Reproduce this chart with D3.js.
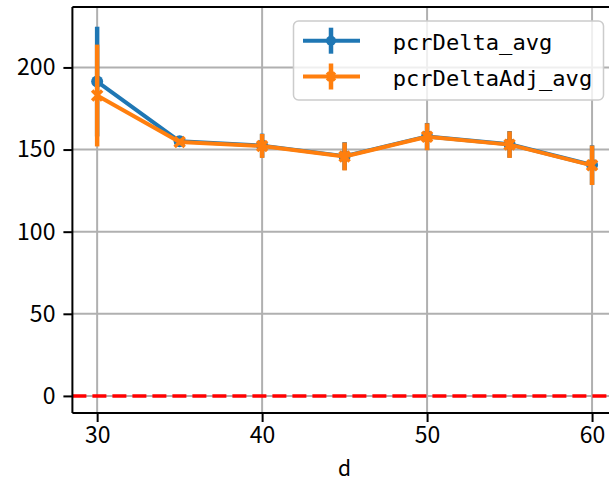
<!DOCTYPE html>
<html><head><meta charset="utf-8">
<script src="https://cdn.jsdelivr.net/npm/d3@7"></script>
<style>html,body{margin:0;padding:0;background:#fff;overflow:hidden}</style>
</head><body>
<svg id="chart" width="609" height="484"></svg>
<script>
const dValues = [30, 35, 40, 45, 50, 55, 60];
const pcrDeltaAvg = [191.4, 155.0, 152.4, 146.0, 158.0, 153.2, 140.6];
const pcrDeltaErr = [33.4, 2.0, 7.3, 8.5, 8.2, 8.1, 12.0];
const pcrDeltaAdjAvg = [182.9, 154.6, 152.2, 145.8, 157.8, 153.0, 140.4];
const pcrDeltaAdjErr = [31.0, 2.0, 7.3, 8.5, 8.2, 8.1, 12.0];
const xTicks = [30, 40, 50, 60];
const yTicks = [0, 50, 100, 150, 200];
const seriesNames = ["pcrDelta_avg", "pcrDeltaAdj_avg"];
const seriesColors = ["#1f77b4", "#ff7f0e"];

const svg = d3.select("#chart");
const pLeft = 72.4, pRight = 616.8, pTop = 7, pBottom = 413;
const x = d3.scaleLinear().domain([28.5, 61.5]).range([pLeft, pRight]);
const y = d3.scaleLinear().domain([-10.4, 236.8]).range([pBottom, pTop]);
const font = "'Noto Sans CJK SC', 'Noto Sans', sans-serif";

// grid
const g = svg.append("g");
g.selectAll(".vg").data(xTicks).enter().append("line")
  .attr("x1", d => x(d)).attr("x2", d => x(d)).attr("y1", pTop).attr("y2", pBottom)
  .attr("stroke", "#b0b0b0").attr("stroke-width", 2);
g.selectAll(".hg").data(yTicks).enter().append("line")
  .attr("x1", pLeft).attr("x2", pRight).attr("y1", d => y(d)).attr("y2", d => y(d))
  .attr("stroke", "#b0b0b0").attr("stroke-width", 2);

// red dashed zero line
svg.append("line").attr("x1", pLeft).attr("x2", pRight).attr("y1", y(0)).attr("y2", y(0))
  .attr("stroke", "red").attr("stroke-width", 3.5).attr("stroke-dasharray", "14,6");

const datasets = [
  {vals: pcrDeltaAvg, errs: pcrDeltaErr, color: seriesColors[0], marker: "circle"},
  {vals: pcrDeltaAdjAvg, errs: pcrDeltaAdjErr, color: seriesColors[1], marker: "x"}
];
const line = d3.line().x(d => x(d.d)).y(d => y(d.v));
datasets.forEach(ds => {
  const pts = dValues.map((d, i) => ({d, v: ds.vals[i], e: ds.errs[i]}));
  const sg = svg.append("g");
  sg.append("path").datum(pts).attr("d", line).attr("fill", "none")
    .attr("stroke", ds.color).attr("stroke-width", 4).attr("stroke-linejoin", "round");
  sg.selectAll(".eb").data(pts).enter().append("line")
    .attr("x1", p => x(p.d)).attr("x2", p => x(p.d))
    .attr("y1", p => y(p.v - p.e)).attr("y2", p => y(p.v + p.e))
    .attr("stroke", ds.color).attr("stroke-width", 4.5);
  if (ds.marker === "circle") {
    sg.selectAll(".mk").data(pts).enter().append("circle")
      .attr("cx", p => x(p.d)).attr("cy", p => y(p.v)).attr("r", 6).attr("fill", ds.color);
  } else {
    sg.selectAll(".mk").data(pts).enter().append("path")
      .attr("d", p => { const cx = x(p.d), cy = y(p.v), s = 5;
        return `M${cx-s},${cy-s}L${cx+s},${cy+s}M${cx-s},${cy+s}L${cx+s},${cy-s}`; })
      .attr("stroke", ds.color).attr("stroke-width", 3.5).attr("fill", "none");
  }
});

// spines
svg.append("line").attr("x1", pLeft).attr("x2", pLeft).attr("y1", pTop).attr("y2", pBottom)
  .attr("stroke", "#000").attr("stroke-width", 2);
svg.append("line").attr("x1", pLeft).attr("x2", pRight).attr("y1", pBottom).attr("y2", pBottom)
  .attr("stroke", "#000").attr("stroke-width", 2);
svg.append("line").attr("x1", pLeft).attr("x2", pRight).attr("y1", pTop).attr("y2", pTop)
  .attr("stroke", "#000").attr("stroke-width", 2);
svg.append("line").attr("x1", pRight).attr("x2", pRight).attr("y1", pTop).attr("y2", pBottom)
  .attr("stroke", "#000").attr("stroke-width", 2);

// axes
const xAxis = d3.axisBottom(x).tickValues(xTicks).tickSize(9).tickPadding(5).tickFormat(d3.format("d"));
const xa = svg.append("g").attr("transform", `translate(0,${pBottom})`).call(xAxis);
const yAxis = d3.axisLeft(y).tickValues(yTicks).tickSize(9).tickPadding(8).tickFormat(d3.format("d"));
const ya = svg.append("g").attr("transform", `translate(${pLeft},0)`).call(yAxis);
[xa, ya].forEach(a => {
  a.select(".domain").remove();
  a.selectAll(".tick line").attr("stroke", "#000").attr("stroke-width", 2);
  a.selectAll(".tick text").attr("fill", "#000").style("font-family", font).style("font-size", "23px");
});
svg.append("text").attr("x", x(45)).attr("y", 470).attr("text-anchor", "middle")
  .attr("dominant-baseline", "middle")
  .style("font-family", font).style("font-size", "21px").text("d");

// legend
const lg = svg.append("g");
lg.append("rect").attr("x", 293.5).attr("y", 21).attr("width", 310).attr("height", 79)
  .attr("rx", 5).attr("fill", "#fff").attr("fill-opacity", 0.8)
  .attr("stroke", "#cccccc").attr("stroke-width", 1.5);
const rows = [40.7, 76.5];
datasets.forEach((ds, i) => {
  const ly = rows[i];
  lg.append("line").attr("x1", 303).attr("x2", 360).attr("y1", ly).attr("y2", ly)
    .attr("stroke", ds.color).attr("stroke-width", 4);
  lg.append("line").attr("x1", 331).attr("x2", 331).attr("y1", ly - 13).attr("y2", ly + 13)
    .attr("stroke", ds.color).attr("stroke-width", 4.5);
  if (ds.marker === "circle") {
    lg.append("circle").attr("cx", 331).attr("cy", ly).attr("r", 5).attr("fill", ds.color);
  } else {
    lg.append("path").attr("d", `M${327},${ly-4}L${335},${ly+4}M${327},${ly+4}L${335},${ly-4}`)
      .attr("stroke", ds.color).attr("stroke-width", 3.5);
  }
  const name = seriesNames[i];
  lg.append("text").attr("x", 392.7).attr("y", ly + 9)
    .attr("textLength", name.length * 13.3).attr("lengthAdjust", "spacingAndGlyphs")
    .style("font-family", "'DejaVu Sans Mono', monospace").style("font-size", "21px")
    .attr("fill", "#000").text(name);
});
</script>
</body></html>
